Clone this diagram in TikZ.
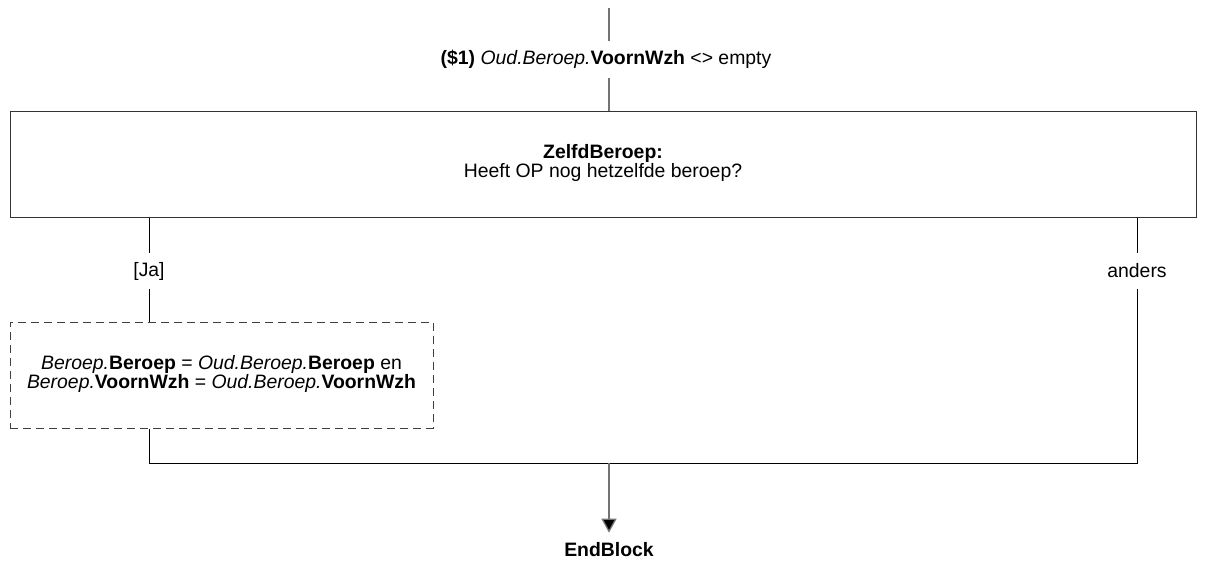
\documentclass[tikz,border=0pt]{standalone}
\usepackage{fontspec}
\setmainfont{Liberation Sans}
\usetikzlibrary{arrows.meta}
\begin{document}
\begin{tikzpicture}[x=1pt,y=-1pt,
  every node/.style={font=\fontsize{19.4}{19}\selectfont, inner sep=0pt},
  lbl/.style={minimum height=36pt},
  conn/.style={draw=black, line width=1pt},
  gconn/.style={draw=black!55, line width=1.3pt},
  qbox/.style={draw=black!80, line width=1pt, minimum width=1186pt, minimum height=105pt},
  abox/.style={draw=black!75, line width=1pt, dash pattern=on 8pt off 5pt, minimum width=423pt, minimum height=106pt},
  txt/.style={align=center},
]
\useasboundingbox (0,0) rectangle (1206,564);
\coordinate (top) at (609,8);
\node[lbl] (cond) at (606,59.5) {\textbf{(\$1)} \textit{Oud.Beroep.}\textbf{VoornWzh} <> empty};
\node[qbox] (q) at (603,164.5) {};
\node[txt] (qt) at (603,163) {\textbf{ZelfdBeroep:}\\Heeft OP nog hetzelfde beroep?};
\node[lbl] (ja) at (149,271) {[Ja]};
\node[lbl] (anders) at (1137,271) {anders};
\node[abox] (a) at (221.5,375) {};
\node[txt] (at) at (221.5,374) {\textit{Beroep.}\textbf{Beroep} = \textit{Oud.Beroep.}\textbf{Beroep} en\\\textit{Beroep.}\textbf{VoornWzh} = \textit{Oud.Beroep.}\textbf{VoornWzh}};
\coordinate (m) at (609,463);
\node[inner ysep=10pt] (end) at (609,550) {\textbf{EndBlock}};

\draw[gconn] (top) -- (cond.north -| top);
\draw[gconn] (cond.south -| top) -- (top |- q.north);
\draw[conn] (ja.north |- q.south) -- (ja.north);
\draw[conn] (ja.south) -- (ja.south |- a.north);
\draw[conn] (anders.north |- q.south) -- (anders.north);
\draw[conn] (ja.south |- a.south) -- (ja.south |- m) -- (anders.south |- m) -- (anders.south);
\draw[gconn, -{Triangle[length=14pt,width=15pt,fill=black]}] (m) -- (end.north);
\end{tikzpicture}
\end{document}
